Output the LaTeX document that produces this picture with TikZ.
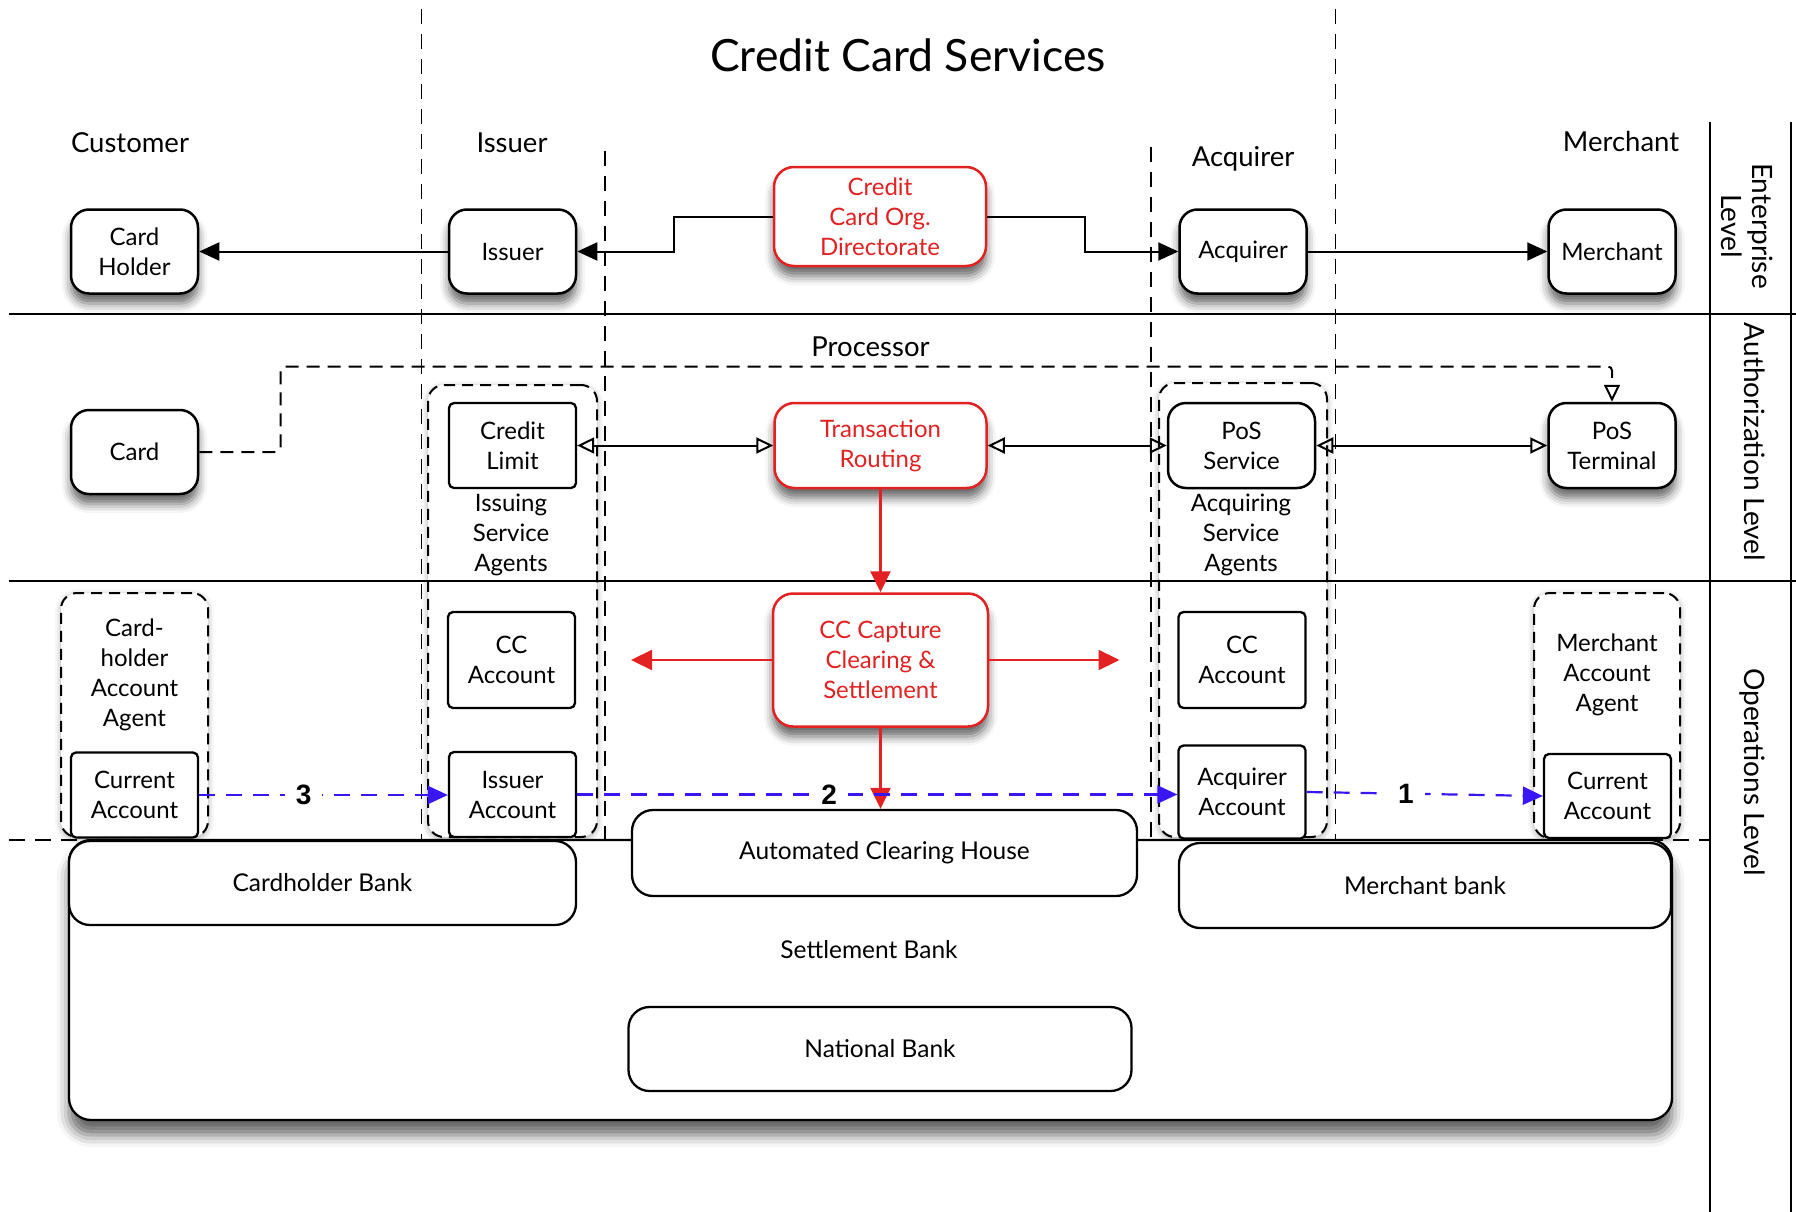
\documentclass[tikz,border=0pt]{standalone}
\usepackage{fontspec}
\setmainfont{Lato}
\newfontfamily\numfam{Liberation Sans}
\usetikzlibrary{arrows.meta,shadows.blur}

\definecolor{ccred}{RGB}{226,34,34}
\definecolor{ccblue}{RGB}{58,22,245}

\newcommand\titlefont{\fontsize{44.5}{52}\selectfont}
\newcommand\hdrfont{\fontsize{27.5}{33}\selectfont}
\newcommand\boxfont{\fontsize{24}{30}\selectfont}
\newcommand\bankfont{\fontsize{24.5}{30}\selectfont}
\newcommand\lvlfont{\fontsize{28}{31}\selectfont}
\newcommand\numlblfont{\numfam\bfseries\fontsize{28}{32}\selectfont}

\tikzset{
  boxshadow/.style={blur shadow={shadow xshift=0pt, shadow yshift=-10pt, shadow blur radius=9pt, shadow opacity=60}},
  grpshadow/.style={blur shadow={shadow xshift=0pt, shadow yshift=-2pt, shadow blur radius=6pt, shadow opacity=35}},
  bigshadow/.style={blur shadow={shadow xshift=0pt, shadow yshift=-15pt, shadow blur radius=12pt, shadow opacity=60}},
  boxbase/.style={font=\boxfont, align=center, inner sep=0pt, fill=white},
  rshape/.style={boxbase, draw=black, line width=2.5pt, rounded corners=18pt,
                 minimum width=127pt, minimum height=84pt},
  rbox/.style={rshape, boxshadow},
  redbox/.style={boxbase, draw=ccred, text=ccred, line width=2.5pt, rounded corners=20pt,
                 minimum width=212pt, boxshadow},
  sqbox/.style={boxbase, draw=black, line width=2.3pt, rounded corners=5pt, minimum width=127pt},
  grp/.style={draw=black, line width=2pt, dash pattern=on 11pt off 7pt, rounded corners=16pt,
              fill=white, inner sep=0pt, grpshadow},
  grptext/.style={font=\boxfont, align=center, inner sep=0pt},
  bank/.style={boxbase, font=\bankfont, draw=black, line width=2.3pt, rounded corners=21pt},
  hdr/.style={font=\hdrfont, inner sep=0pt, anchor=base},
  lvl/.style={font=\lvlfont, align=center, inner sep=0pt, rotate=-90},
  colline/.style={draw=black, line width=1.8pt, dash pattern=on 15pt off 10pt},
  rowline/.style={draw=black, line width=2pt},
  blk/.style={draw=black, line width=2pt, -{Triangle[length=20pt,width=18pt]}},
  oarr/.style={draw=black, line width=2pt,
               {Triangle[open,length=17pt,width=16pt,line width=2pt]}-{Triangle[open,length=17pt,width=16pt,line width=2pt]}},
  dconn/.style={draw=black, line width=2pt, dash pattern=on 13pt off 8pt, rounded corners=4pt,
                -{Triangle[open,length=17pt,width=16pt,line width=2pt]}},
  rarr/.style={draw=ccred, line width=2.2pt, -{Triangle[length=21pt,width=20pt]}},
  barr/.style={draw=ccblue, line width=2.2pt, dash pattern=on 16pt off 11pt,
               -{Triangle[length=20pt,width=18pt]}},
  numlbl/.style={font=\numlblfont, text=black, fill=white, inner xsep=11pt, inner ysep=1pt},
}

\begin{document}
\begin{tikzpicture}[x=1pt, y=-1pt]
\useasboundingbox (0,0) rectangle (1796,1212);

% ---- agent groups (dashed, drawn below the grid lines) ----
\node[grp, minimum width=169pt, minimum height=452pt] (issgrp) at (512.5,611) {};
\node[grp, minimum width=168pt, minimum height=454pt] (acqgrp) at (1243,610) {};
\node[grp, minimum width=147pt, minimum height=244pt] (chgrp) at (134.5,715) {};
\node[grp, minimum width=146pt, minimum height=245pt] (mgrp) at (1607,715.5) {};

% ---- lanes and levels ----
\draw[colline] (421.5,9) -- (421.5,840);
\draw[colline] (605,151) -- (605,840);
\draw[colline] (1151,147) -- (1151,840);
\draw[colline] (1335.5,9) -- (1335.5,840);

\draw[rowline] (9,314) -- (1796,314);
\draw[rowline] (9,581) -- (1796,581);
\draw[rowline, dash pattern=on 16pt off 10pt] (9,840) -- (1710,840);
\draw[rowline] (1710,122) -- (1710,1212);
\draw[rowline] (1791,122) -- (1791,1212);

\node[lvl] (lvlent) at (1747,226) {Enterprise\\Level};
\node[lvl] (lvlauth) at (1755,442) {Authorization Level};
\node[lvl] (lvlops) at (1752,772) {Operations Level};

% ---- titles ----
\node[font=\titlefont, inner sep=0pt] (title) at (908,55) {Credit Card Services};
\node[hdr] (hcust) at (130,153) {Customer};
\node[hdr] (hiss) at (512,153) {Issuer};
\node[hdr] (hacq) at (1243,166) {Acquirer};
\node[hdr] (hmer) at (1621,152) {Merchant};
\node[hdr] (hproc) at (870.5,356) {Processor};

% ---- settlement banks ----
\node[bank, bigshadow, rounded corners=22pt, minimum width=1603pt, minimum height=280pt] (settle) at (870.5,980) {};
\node[font=\bankfont, inner sep=0pt] (settlelbl) at (869,950) {Settlement Bank};
\node[bank, minimum width=507pt, minimum height=84pt] (chbank) at (322.5,883) {Cardholder Bank};
\node[bank, minimum width=505pt, minimum height=86pt] (ach) at (884.5,853) {Automated Clearing House};
\node[bank, minimum width=492pt, minimum height=85pt] (mbank) at (1425,885.5) {Merchant bank};
\node[bank, minimum width=503pt, minimum height=84pt] (natbank) at (880,1049) {National Bank};

% ---- enterprise level ----
\node[rbox] (cardholder) at (134.5,251.5) {Card\\Holder};
\node[rbox] (issuer) at (512.5,251.5) {Issuer};
\node[redbox, minimum height=99pt] (dir) at (880,216.5) {Credit\\Card Org.\\Directorate};
\node[rbox] (acquirer) at (1243,251.5) {Acquirer};
\node[rbox] (merchant) at (1612,251.5) {Merchant};

% ---- authorization level ----
\node[rbox] (card) at (134.5,452) {Card};
\node[sqbox, minimum height=85pt] (climit) at (512.5,445.5) {Credit\\Limit};
\node[grptext] (isslbl) at (511,535) {Issuing\\Service\\Agents};
\node[redbox, minimum height=85pt] (route) at (880.5,445.5) {Transaction\\Routing};
\node[rshape, minimum width=147pt, minimum height=85pt] (possvc) at (1241.5,445.5) {PoS\\Service};
\node[grptext] (acqlbl) at (1241,535) {Acquiring\\Service\\Agents};
\node[rbox, minimum height=85pt] (posterm) at (1612,445.5) {PoS\\Terminal};

% ---- operations level ----
\node[grptext, text depth=0pt] (chlbl) at (134.5,673) {Card-\\holder\\Account\\Agent};
\node[sqbox, minimum height=85pt] (curacc1) at (134.5,795) {Current\\Account};
\node[sqbox, minimum height=96pt] (ccacc1) at (511.5,660) {CC\\Account};
\node[sqbox, minimum height=85pt] (issacc) at (512.5,794.5) {Issuer\\Account};
\node[redbox, minimum width=215pt, minimum height=133pt] (capture) at (880.5,660) {CC Capture\\Clearing \&\\Settlement};
\node[sqbox, minimum height=96pt] (ccacc2) at (1242,660) {CC\\Account};
\node[sqbox, minimum height=93pt] (acqacc) at (1242,792) {Acquirer\\Account};
\node[grptext] (mlbl) at (1607,675) {Merchant\\Account\\Agent};
\node[sqbox, minimum height=84pt] (curacc2) at (1607.5,796) {Current\\Account};

% ---- enterprise connectors ----
\draw[blk] (issuer.west) -- (cardholder.east);
\draw[blk] (dir.west) -- ++(-99,0) |- (issuer.east);
\draw[blk] (dir.east) -- ++(97.5,0) |- (acquirer.west);
\draw[blk] (acquirer.east) -- (merchant.west);

% ---- authorization connectors ----
\coordinate (cardbend) at (280.6,366.5);
\draw[dconn] (card.east) -| (cardbend) -| (posterm.north);
\draw[oarr] (climit.east) -- (route.west);
\draw[oarr] (route.east) -- (possvc.west);
\draw[oarr] (possvc.east) -- (posterm.west);
\draw[rarr] (route.south) -- (capture.north);

% ---- clearing and settlement ----
\coordinate (capL) at (631,660);
\coordinate (capR) at (1119.5,660);
\draw[rarr] (capture.west) -- (capL);
\draw[rarr] (capture.east) -- (capR);
\draw[rarr] (capture.south) -- (capture.south |- ach.north);

% ---- money flow ----
\draw[barr] (curacc1.east) -- node[numlbl, pos=0.42] (n3) {3} (curacc1.east -| issacc.west);
\draw[barr] (issacc.east) -- node[numlbl, pos=0.42] (n2) {2} (issacc.east -| acqacc.west);
\draw[barr] (acqacc.east) -- node[numlbl, pos=0.42] (n1) {1} (curacc2.west);
\end{tikzpicture}
\end{document}
